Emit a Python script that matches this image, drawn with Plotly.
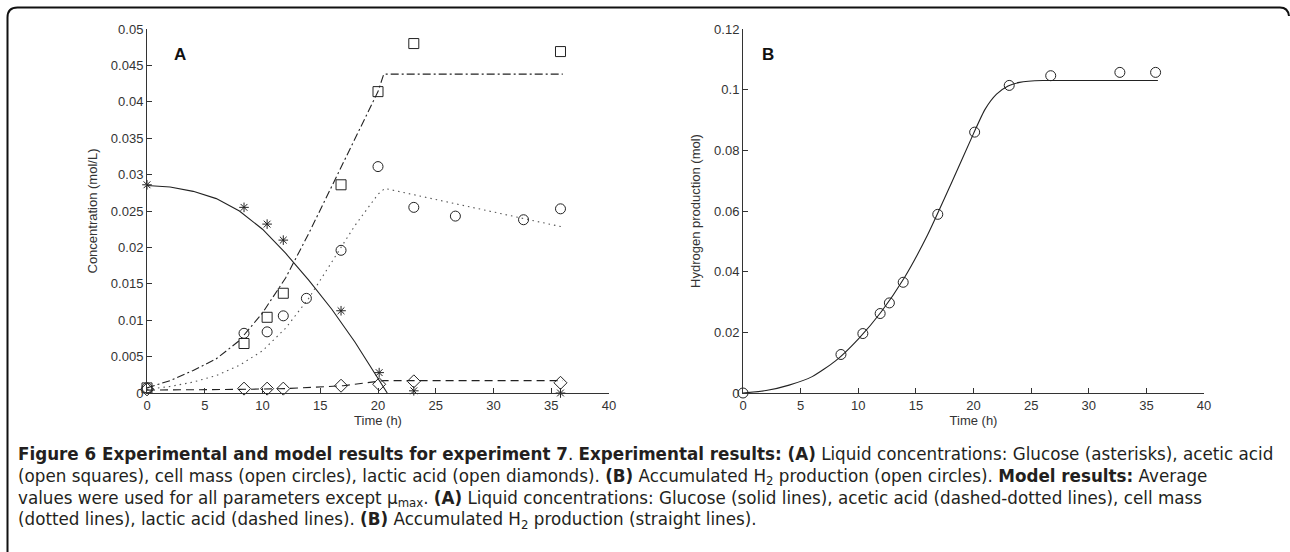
import plotly.graph_objects as go

W, H = 1290, 552

# ---------------- Panel A: experimental data ----------------
glu_t = [0, 8.4, 10.4, 11.8, 16.8, 20.1, 23.1, 35.8]
glu_c = [0.0286, 0.0255, 0.0232, 0.0210, 0.0113, 0.0028, 0.0003, 0.0000]

ace_t = [0, 8.4, 10.4, 11.8, 16.8, 20.0, 23.1, 35.8]
ace_c = [0.0007, 0.0068, 0.0104, 0.0137, 0.0286, 0.0414, 0.0480, 0.0469]

cell_t = [0, 8.4, 10.4, 11.8, 13.8, 16.8, 20.0, 23.1, 26.7, 32.6, 35.8]
cell_c = [0.0007, 0.0082, 0.0084, 0.0106, 0.0130, 0.0196, 0.0311, 0.0255, 0.0243, 0.0238, 0.0253]

lac_t = [0, 8.4, 10.4, 11.8, 16.8, 20.1, 23.1, 35.8]
lac_c = [0.0005, 0.0006, 0.0006, 0.0006, 0.0010, 0.0012, 0.0016, 0.0014]

# ---------------- Panel A: model curves ----------------
glu_mt = [0, 2, 4, 6, 8, 10, 12, 14, 16, 18, 19, 20, 20.8]
glu_mc = [0.0285, 0.0283, 0.0277, 0.0267, 0.0250, 0.0225, 0.0192, 0.0155, 0.0115, 0.0070, 0.0045, 0.0019, 0.0]

ace_mt = [0, 2, 4, 6, 8, 10, 12, 14, 16, 18, 20, 20.5, 36]
ace_mc = [0.0007, 0.0017, 0.0031, 0.0047, 0.0072, 0.0110, 0.0158, 0.0219, 0.0284, 0.0349, 0.0414, 0.0438, 0.0438]

cell_mt = [0, 2, 4, 6, 8, 10, 12, 14, 16, 18, 20, 20.6, 36]
cell_mc = [0.0005, 0.0009, 0.0015, 0.0024, 0.0038, 0.0058, 0.0089, 0.0130, 0.0180, 0.0230, 0.0273, 0.0281, 0.0228]

lac_mt = [0, 4, 8, 12, 15, 17, 19, 20.5, 36]
lac_mc = [0.0004, 0.0004, 0.0005, 0.0006, 0.0008, 0.0010, 0.0014, 0.0017, 0.0017]

# ---------------- Panel B ----------------
h2_t = [0, 8.5, 10.4, 11.9, 12.7, 13.9, 16.9, 20.1, 23.1, 26.7, 32.7, 35.8]
h2_v = [0.0, 0.0127, 0.0196, 0.0262, 0.0297, 0.0365, 0.0589, 0.0860, 0.1014, 0.1046, 0.1057, 0.1057]

h2_mt = [0, 2, 4, 6, 8, 10, 12, 14, 16, 18, 20, 21, 22, 23, 24, 26, 30, 36]
h2_mv = [0.0, 0.0008, 0.0026, 0.0054, 0.0105, 0.0178, 0.0268, 0.0380, 0.0520, 0.0685, 0.0855, 0.0935, 0.0985, 0.1012, 0.1024, 0.1030, 0.1030, 0.1030]

# ---------------- ticks ----------------
x_ticks = [0, 5, 10, 15, 20, 25, 30, 35, 40]
x_ticklabels = ["0", "5", "10", "15", "20", "25", "30", "35", "40"]
ya_ticks = [0, 0.005, 0.01, 0.015, 0.02, 0.025, 0.03, 0.035, 0.04, 0.045, 0.05]
ya_ticklabels = ["0", "0.005", "0.01", "0.015", "0.02", "0.025", "0.03", "0.035", "0.04", "0.045", "0.05"]
yb_ticks = [0, 0.02, 0.04, 0.06, 0.08, 0.1, 0.12]
yb_ticklabels = ["0", "0.02", "0.04", "0.06", "0.08", "0.1", "0.12"]

caption_lines = [
    "<b>Figure 6 Experimental and model results for experiment 7</b>. <b>Experimental results: (A)</b> Liquid concentrations: Glucose (asterisks), acetic acid",
    "(open squares), cell mass (open circles), lactic acid (open diamonds). <b>(B)</b> Accumulated H<sub>2</sub> production (open circles). <b>Model results:</b> Average",
    "values were used for all parameters except \u03bc<sub>max</sub>. <b>(A)</b> Liquid concentrations: Glucose (solid lines), acetic acid (dashed-dotted lines), cell mass",
    "(dotted lines), lactic acid (dashed lines). <b>(B)</b> Accumulated H<sub>2</sub> production (straight lines).",
]

INK = "#222222"
TICKFONT = dict(family="Liberation Sans", size=13, color="#333333")
TITLEFONT = dict(family="Liberation Sans", size=13, color="#333333")


def px_x(p):
    return p / W


def px_y(p):
    return 1 - p / H


fig = go.Figure()

lw = 1.1
# model lines panel A
fig.add_trace(go.Scatter(x=glu_mt, y=glu_mc, mode="lines", line=dict(color=INK, width=lw, dash="solid"), xaxis="x", yaxis="y"))
fig.add_trace(go.Scatter(x=ace_mt, y=ace_mc, mode="lines", line=dict(color=INK, width=lw, dash="8px,3px,2px,3px"), xaxis="x", yaxis="y"))
fig.add_trace(go.Scatter(x=cell_mt, y=cell_mc, mode="lines", line=dict(color="#555555", width=lw, dash="1.5px,4px"), xaxis="x", yaxis="y"))
fig.add_trace(go.Scatter(x=lac_mt, y=lac_mc, mode="lines", line=dict(color=INK, width=lw, dash="8px,5px"), xaxis="x", yaxis="y"))

mk = dict(color=INK, line=dict(color=INK, width=1))
fig.add_trace(go.Scatter(x=glu_t, y=glu_c, mode="markers", cliponaxis=False,
                         marker=dict(symbol="asterisk-open", size=8, **mk), xaxis="x", yaxis="y"))
fig.add_trace(go.Scatter(x=ace_t, y=ace_c, mode="markers", cliponaxis=False,
                         marker=dict(symbol="square-open", size=10, **mk), xaxis="x", yaxis="y"))
fig.add_trace(go.Scatter(x=cell_t, y=cell_c, mode="markers", cliponaxis=False,
                         marker=dict(symbol="circle-open", size=10, **mk), xaxis="x", yaxis="y"))
fig.add_trace(go.Scatter(x=lac_t, y=lac_c, mode="markers", cliponaxis=False,
                         marker=dict(symbol="diamond-open", size=10, **mk), xaxis="x", yaxis="y"))

# panel B
fig.add_trace(go.Scatter(x=h2_mt, y=h2_mv, mode="lines", line=dict(color=INK, width=lw, shape="spline", smoothing=0.6), xaxis="x2", yaxis="y2"))
fig.add_trace(go.Scatter(x=h2_t, y=h2_v, mode="markers", cliponaxis=False,
                         marker=dict(symbol="circle-open", size=10, **mk), xaxis="x2", yaxis="y2"))

axis_common = dict(showline=True, linecolor="#333333", linewidth=1, ticks="inside", ticklen=5,
                   tickcolor="#333333", tickwidth=1, showgrid=False, zeroline=False,
                   tickfont=TICKFONT, mirror=False, automargin=False)

fig.update_layout(
    width=W, height=H,
    margin=dict(l=0, r=0, t=0, b=0, autoexpand=False),
    paper_bgcolor="white", plot_bgcolor="white",
    showlegend=False,
    xaxis=dict(domain=[px_x(147), px_x(609)], range=[0, 40], tickvals=x_ticks, ticktext=x_ticklabels,
               anchor="y", title=dict(text="Time (h)", font=TITLEFONT, standoff=4),
               **axis_common),
    yaxis=dict(domain=[px_y(393), px_y(29)], range=[0, 0.05], tickvals=ya_ticks, ticktext=ya_ticklabels,
               anchor="x", title=dict(text="Concentration (mol/L)", font=TITLEFONT, standoff=10),
               **axis_common),
    xaxis2=dict(domain=[px_x(743), px_x(1204)], range=[0, 40], tickvals=x_ticks, ticktext=x_ticklabels,
                anchor="y2", title=dict(text="Time (h)", font=TITLEFONT, standoff=4),
                **axis_common),
    yaxis2=dict(domain=[px_y(393), px_y(29)], range=[0, 0.12], tickvals=yb_ticks, ticktext=yb_ticklabels,
                anchor="x2", title=dict(text="Hydrogen production (mol)", font=TITLEFONT, standoff=10),
                **axis_common),
)

# panel letters
fig.add_annotation(x=px_x(172), y=px_y(43), xref="paper", yref="paper", text="<b>A</b>", showarrow=False,
                   font=dict(family="Liberation Sans", size=17, color="#111111"))
fig.add_annotation(x=px_x(768), y=px_y(43), xref="paper", yref="paper", text="<b>B</b>", showarrow=False,
                   font=dict(family="Liberation Sans", size=17, color="#111111"))

# caption as one multi-line text block
fig.add_annotation(x=px_x(16), y=px_y(442), xref="paper", yref="paper", xanchor="left", yanchor="top",
                   text="<br>".join(caption_lines), showarrow=False, align="left",
                   font=dict(family="DejaVu Sans", size=16.75, color="#231f20"))

# frame: left side, rounded top-left corner, top line, top-right corner
r = 10
path = (f"M {px_x(7.5)},{px_y(552)} L {px_x(7.5)},{px_y(7.5 + r)} "
        f"Q {px_x(7.5)},{px_y(7.5)} {px_x(7.5 + r)},{px_y(7.5)} "
        f"L {px_x(1280)},{px_y(7.5)} Q {px_x(1288)},{px_y(7.5)} {px_x(1289)},{px_y(16)}")
fig.add_shape(type="path", path=path, xref="paper", yref="paper", line=dict(color="#111111", width=2))

fig.write_html("out.html")
